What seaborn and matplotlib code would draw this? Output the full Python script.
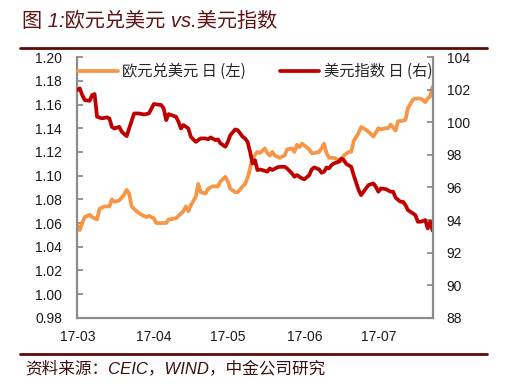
import pandas as pd
import numpy as np
import matplotlib
matplotlib.use("Agg")
import matplotlib.pyplot as plt
import matplotlib.dates as mdates
import seaborn as sns

# EUR/USD (left axis)
eur_dates = (
    ["03-01", "03-02", "03-03", "03-04", "03-06", "03-07", "03-09", "03-10", "03-12", "03-14", "03-15",
     "03-16", "03-18", "03-20", "03-21", "03-22", "03-23", "03-25", "03-27", "03-29", "03-30"]
    + ["04-01", "04-02", "04-04", "04-06", "04-07", "04-10", "04-11", "04-13", "04-14", "04-15",
       "04-16", "04-18", "04-19", "04-20", "04-22", "04-23", "04-25", "04-27", "04-28", "04-30"]
    + ["05-01", "05-02", "05-04", "05-05", "05-07", "05-08", "05-09", "05-10", "05-11", "05-13", "05-14",
       "05-15", "05-16", "05-17", "05-18", "05-19", "05-20", "05-22", "05-24", "05-25", "05-27", "05-28",
       "05-29", "05-30", "05-31"]
    + ["06-02", "06-03", "06-04", "06-05", "06-07", "06-08", "06-09", "06-10", "06-11", "06-13", "06-15",
       "06-16", "06-17", "06-19", "06-20", "06-21", "06-23", "06-24", "06-25", "06-27", "06-29"]
    + ["07-01", "07-02", "07-04", "07-05", "07-06", "07-08", "07-09", "07-10", "07-12", "07-13", "07-15",
       "07-16", "07-18", "07-19", "07-20", "07-21", "07-22", "07-23"]
)
eur_values = (
    [1.058, 1.054, 1.060, 1.065, 1.067, 1.065, 1.063, 1.072, 1.074, 1.074, 1.080,
     1.078, 1.079, 1.084, 1.088, 1.085, 1.074, 1.070, 1.067, 1.065, 1.066]
    + [1.064, 1.060, 1.060, 1.060, 1.063, 1.064, 1.066, 1.070, 1.074, 1.070,
       1.075, 1.082, 1.093, 1.086, 1.085, 1.089, 1.091, 1.091, 1.095, 1.099]
    + [1.095, 1.089, 1.086, 1.086, 1.091, 1.093, 1.098, 1.106, 1.115, 1.120, 1.119,
       1.121, 1.123, 1.119, 1.117, 1.120, 1.117, 1.115, 1.117, 1.122, 1.123, 1.120,
       1.126, 1.124, 1.127]
    + [1.124, 1.122, 1.119, 1.119, 1.120, 1.123, 1.127, 1.119, 1.115, 1.115, 1.113,
       1.112, 1.117, 1.120, 1.120, 1.129, 1.136, 1.141, 1.140, 1.137, 1.133]
    + [1.140, 1.139, 1.140, 1.140, 1.143, 1.138, 1.146, 1.146, 1.147, 1.157, 1.164,
       1.165, 1.165, 1.164, 1.162, 1.165, 1.167, 1.175]
)

# US dollar index (right axis)
dxy_dates = (
    ["03-01", "03-02", "03-03", "03-04", "03-06", "03-07", "03-08", "03-09", "03-11", "03-13", "03-14",
     "03-15", "03-16", "03-18", "03-19", "03-21", "03-22", "03-24", "03-26", "03-28", "03-30"]
    + ["04-01", "04-04", "04-05", "04-06", "04-07", "04-10", "04-11", "04-12", "04-13", "04-15",
       "04-16", "04-18", "04-20", "04-22", "04-23", "04-24", "04-26", "04-27", "04-28", "04-30"]
    + ["05-01", "05-02", "05-04", "05-05", "05-07", "05-08", "05-09", "05-10", "05-11", "05-12", "05-13",
       "05-14", "05-15", "05-17", "05-18", "05-19", "05-21", "05-22", "05-24", "05-25", "05-27", "05-28",
       "05-29", "05-31"]
    + ["06-01", "06-03", "06-04", "06-05", "06-07", "06-08", "06-09", "06-10", "06-11", "06-12", "06-13",
       "06-15", "06-16", "06-17", "06-18", "06-20", "06-21", "06-23", "06-24", "06-25", "06-27", "06-29",
       "06-30"]
    + ["07-01", "07-02", "07-04", "07-06", "07-07", "07-08", "07-10", "07-11", "07-12", "07-13", "07-14",
       "07-16", "07-17", "07-18", "07-19", "07-20", "07-21", "07-22", "07-23"]
)
dxy_values = (
    [101.98, 102.08, 101.67, 101.36, 101.32, 101.67, 101.73, 100.34, 100.24, 100.30, 100.24,
     99.72, 99.62, 99.72, 99.42, 99.15, 99.62, 100.54, 100.54, 100.48, 100.54]
    + [101.12, 101.06, 100.85, 100.13, 100.50, 100.34, 100.03, 99.62, 99.83, 99.62,
       99.11, 98.80, 99.01, 99.01, 98.95, 99.07, 98.91, 98.95, 98.71, 98.50]
    + [98.80, 99.21, 99.56, 99.52, 99.11, 99.01, 98.80, 98.19, 97.48, 97.68, 97.07,
       97.10, 97.07, 96.97, 97.17, 97.07, 97.23, 97.27, 97.27, 97.17, 96.86, 96.66,
       96.76, 96.56]
    + [96.50, 96.76, 97.11, 97.23, 97.11, 96.90, 96.97, 97.23, 97.17, 97.37, 97.48,
       97.58, 97.78, 97.68, 97.45, 97.27, 96.76, 95.84, 95.53, 95.74, 96.15, 96.25,
       96.04]
    + [95.74, 95.94, 95.90, 95.74, 95.74, 95.37, 95.12, 95.12, 94.92, 94.61, 94.51,
       94.31, 93.90, 93.90, 93.94, 94.00, 93.49, 93.90, 93.35]
)

eur = pd.DataFrame({"date": pd.to_datetime(["2017-" + d for d in eur_dates]), "value": eur_values})
dxy = pd.DataFrame({"date": pd.to_datetime(["2017-" + d for d in dxy_dates]), "value": dxy_values})

month_ticks = pd.to_datetime(["2017-03-01", "2017-04-01", "2017-05-01", "2017-06-01", "2017-07-01"])
left_ticks = np.arange(0.98, 1.2001, 0.02)
right_ticks = np.arange(88, 104.1, 2)

sns.set_style("white")
plt.rcParams["font.family"] = ["Liberation Sans", "Noto Sans CJK SC", "DejaVu Sans"]

orange = "#F79646"
red = "#C00000"
grey = "#8C8C8C"
brown = "#5E1414"

fig = plt.figure(figsize=(5.12, 3.91), dpi=100)
ax = fig.add_axes([0.151, 0.187, 0.694, 0.667])
ax2 = ax.twinx()

sns.lineplot(data=eur, x="date", y="value", ax=ax, color=orange, linewidth=2.7, label="欧元兑美元 日 (左)")
sns.lineplot(data=dxy, x="date", y="value", ax=ax2, color=red, linewidth=2.7, label="美元指数 日 (右)")

ax.set_xlim(pd.Timestamp("2017-03-01"), pd.Timestamp("2017-07-23"))
ax.set_ylim(0.98, 1.20)
ax2.set_ylim(88, 104)
ax.set_xticks(month_ticks)
ax.xaxis.set_major_formatter(mdates.DateFormatter("%y-%m"))
ax.set_yticks(left_ticks)
ax.set_yticklabels([f"{v:.2f}" for v in left_ticks])
ax2.set_yticks(right_ticks)
ax2.set_yticklabels([f"{v:.0f}" for v in right_ticks])
ax.set_xlabel("")
ax.set_ylabel("")
ax2.set_ylabel("")

for a in (ax, ax2):
    a.spines["top"].set_visible(False)
    for side in ("left", "right", "bottom"):
        a.spines[side].set_color(grey)
        a.spines[side].set_linewidth(1.6)
ax.spines["right"].set_visible(False)
ax2.spines["left"].set_visible(False)
ax2.spines["bottom"].set_visible(False)

ax.tick_params(axis="both", direction="in", length=4, width=1.3, color=grey, labelsize=10, labelcolor="#1a1a1a")
ax.tick_params(axis="y", pad=11)
ax.tick_params(axis="x", pad=9)
ax2.tick_params(axis="y", direction="in", length=4, width=1.3, color=grey, labelsize=10, labelcolor="#1a1a1a", pad=10)

if ax.get_legend():
    ax.get_legend().remove()
if ax2.get_legend():
    ax2.get_legend().remove()
h1, l1 = ax.get_legend_handles_labels()
h2, l2 = ax2.get_legend_handles_labels()
ax2.legend(h1 + h2, l1 + l2, loc="upper left", bbox_to_anchor=(-0.015, 1.0), ncol=2, frameon=False,
           borderaxespad=0, handlelength=2.6, handletextpad=0.3, columnspacing=2.2,
           prop={"family": ["Noto Sans CJK SC"], "size": 11})

# header, rules and source note
fig.text(0.043, 0.945, "图 1:欧元兑美元 vs.美元指数", fontsize=14.5, color=brown, style="italic",
         va="center", ha="left")
fig.add_artist(plt.Line2D([0.039, 0.951], [0.877, 0.877], color="#5C0A0A", linewidth=2))
fig.add_artist(plt.Line2D([0.039, 0.951], [0.095, 0.095], color="#5C0A0A", linewidth=2))
fig.text(0.049, 0.058, "资料来源：CEIC，WIND，中金公司研究", fontsize=12, color="#3A1010", style="italic",
         va="center", ha="left")

fig.savefig("out.png", dpi=100)
